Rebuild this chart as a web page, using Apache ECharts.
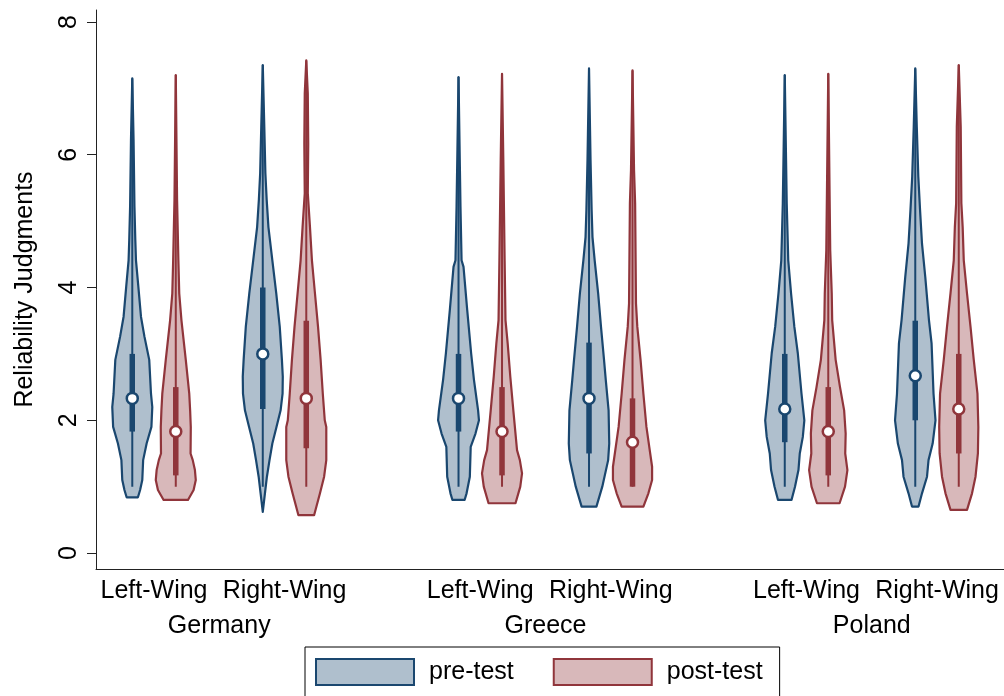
<!DOCTYPE html>
<html><head><meta charset="utf-8">
<script src="https://cdn.jsdelivr.net/npm/echarts@6/dist/echarts.min.js"></script>
<style>html,body{margin:0;padding:0;background:#fff}#main{width:1004px;height:696px}</style>
</head><body><div id="main"></div>
<script>
const countries = ['Germany', 'Greece', 'Poland'];
const wings = ['Left-Wing', 'Right-Wing'];
const tests = ['pre-test', 'post-test'];
const yTicks = [0, 2, 4, 6, 8];

// Density profiles: [value, half-width in x-axis units], top to bottom
const germanyLeftPre = [[7.15,0],[6.22,0.03],[5.22,0.05],[4.71,0.07],[4.41,0.085],[4.01,0.14],[3.56,0.20],[3.26,0.28],[2.91,0.39],[2.40,0.43],[2.20,0.46],[1.90,0.44],[1.65,0.33],[1.40,0.25],[1.10,0.23],[0.95,0.18],[0.84,0.13]];
const germanyLeftPost = [[7.2,0],[5.32,0.03],[4.41,0.06],[3.91,0.08],[3.51,0.13],[2.91,0.23],[2.40,0.31],[2.15,0.33],[1.90,0.345],[1.50,0.34],[1.40,0.39],[1.25,0.44],[1.10,0.46],[0.95,0.41],[0.80,0.28]];
const germanyRightPre = [[7.35,0],[6.42,0.035],[5.72,0.06],[5.32,0.09],[4.91,0.13],[4.41,0.22],[3.91,0.31],[3.41,0.39],[2.91,0.44],[2.66,0.46],[2.40,0.455],[2.15,0.41],[1.90,0.315],[1.65,0.22],[1.40,0.155],[1.15,0.095],[0.90,0.05],[0.62,0]];
const germanyRightPost = [[7.42,0],[6.92,0.035],[6.17,0.045],[5.42,0.035],[4.91,0.085],[4.41,0.13],[3.91,0.20],[3.41,0.27],[2.91,0.33],[2.40,0.38],[2.00,0.425],[1.90,0.46],[1.40,0.46],[1.15,0.41],[0.90,0.315],[0.57,0.18]];
const greeceLeftPre = [[7.17,0],[5.22,0.045],[4.41,0.07],[4.31,0.115],[3.66,0.20],[3.01,0.29],[2.61,0.355],[2.15,0.45],[2.00,0.47],[1.80,0.39],[1.60,0.28],[1.15,0.26],[0.90,0.185],[0.80,0.14]];
const greeceLeftPost = [[7.22,0],[5.92,0.03],[4.41,0.06],[3.51,0.08],[3.16,0.13],[2.66,0.19],[2.15,0.26],[1.55,0.345],[1.40,0.41],[1.20,0.46],[1.00,0.42],[0.75,0.31]];
const greeceRightPre = [[7.30,0],[5.92,0.035],[5.17,0.06],[4.76,0.08],[4.41,0.13],[3.91,0.21],[3.41,0.275],[2.91,0.345],[2.61,0.385],[2.15,0.45],[1.65,0.465],[1.40,0.44],[1.00,0.305],[0.70,0.17]];
const greeceRightPost = [[7.27,0],[5.77,0.035],[5.27,0.06],[3.76,0.08],[3.41,0.11],[2.91,0.185],[2.40,0.25],[1.90,0.32],[1.60,0.385],[1.30,0.45],[1.10,0.45],[0.90,0.365],[0.70,0.25]];
const polandLeftPre = [[7.20,0],[5.27,0.045],[4.41,0.08],[3.91,0.145],[3.41,0.22],[3.01,0.30],[2.40,0.385],[2.00,0.45],[1.75,0.415],[1.50,0.345],[1.25,0.315],[1.00,0.235],[0.80,0.155]];
const polandLeftPost = [[7.22,0],[4.56,0.045],[3.91,0.08],[3.51,0.09],[2.91,0.17],[2.50,0.27],[2.15,0.365],[1.80,0.40],[1.50,0.39],[1.25,0.44],[1.00,0.385],[0.75,0.26]];
const polandRightPre = [[7.30,0],[6.42,0.035],[5.67,0.07],[5.17,0.11],[4.66,0.155],[4.16,0.23],[3.51,0.315],[3.16,0.375],[2.40,0.42],[2.00,0.465],[1.65,0.40],[1.40,0.305],[1.15,0.27],[0.90,0.155],[0.70,0.075]];
const polandRightPost = [[7.35,0],[6.42,0.045],[5.27,0.06],[4.91,0.09],[4.41,0.115],[3.91,0.19],[3.41,0.27],[2.91,0.345],[2.40,0.43],[1.90,0.45],[1.50,0.44],[1.15,0.385],[0.90,0.305],[0.65,0.19]];

// Box statistics: [lower adjacent, q1, median, q3, upper adjacent]
const germanyLeftPreStats = [1.0, 1.83, 2.33, 3.0, 7.15];
const germanyLeftPostStats = [1.0, 1.17, 1.83, 2.5, 7.2];
const germanyRightPreStats = [1.0, 2.17, 3.0, 4.0, 7.35];
const germanyRightPostStats = [1.0, 1.58, 2.33, 3.5, 7.42];
const greeceLeftPreStats = [1.0, 1.83, 2.33, 3.0, 7.17];
const greeceLeftPostStats = [1.0, 1.17, 1.83, 2.5, 7.22];
const greeceRightPreStats = [1.0, 1.5, 2.33, 3.17, 7.3];
const greeceRightPostStats = [1.0, 1.0, 1.67, 2.33, 7.27];
const polandLeftPreStats = [1.0, 1.67, 2.17, 3.0, 7.2];
const polandLeftPostStats = [1.0, 1.17, 1.83, 2.5, 7.22];
const polandRightPreStats = [1.0, 2.0, 2.67, 3.5, 7.3];
const polandRightPostStats = [1.0, 1.5, 2.17, 3.0, 7.35];

const profiles = {
  'pre-test': [germanyLeftPre, germanyRightPre, greeceLeftPre, greeceRightPre, polandLeftPre, polandRightPre],
  'post-test': [germanyLeftPost, germanyRightPost, greeceLeftPost, greeceRightPost, polandLeftPost, polandRightPost]
};
const stats = {
  'pre-test': [germanyLeftPreStats, germanyRightPreStats, greeceLeftPreStats, greeceRightPreStats, polandLeftPreStats, polandRightPreStats],
  'post-test': [germanyLeftPostStats, germanyRightPostStats, greeceLeftPostStats, greeceRightPostStats, polandLeftPostStats, polandRightPostStats]
};

const colors = {
  'pre-test': { line: '#1a476f', fill: '#afbfcd' },
  'post-test': { line: '#90353b', fill: '#d8b8ba' }
};

const GROUP_STEP = 7.5, WING_STEP = 3, TEST_STEP = 1;
function pos(c, w, t) { return c * GROUP_STEP + w * WING_STEP + t * TEST_STEP; }

const wingLabelPos = [], wingLabelText = {};
countries.forEach((c, ci) => wings.forEach((w, wi) => {
  const p = pos(ci, wi, 0.5);
  wingLabelPos.push(p); wingLabelText[p] = w;
}));
const countryLabelPos = [], countryLabelText = {};
countries.forEach((c, ci) => {
  const p = (pos(ci, 0, 0.5) + pos(ci, 1, 0.5)) / 2;
  countryLabelPos.push(p); countryLabelText[p] = c;
});

function findLabel(map, v) {
  let best = null, bd = 1e9;
  Object.keys(map).forEach(k => { const d = Math.abs(+k - v); if (d < bd) { bd = d; best = map[k]; } });
  return bd < 0.01 ? best : '';
}

const FONT = "'Liberation Sans', Arial, sans-serif";

function makeSeries(test, ti) {
  const data = [];
  countries.forEach((c, ci) => wings.forEach((w, wi) => {
    const st = stats[test][ci * 2 + wi];
    data.push([pos(ci, wi, ti), st[0], st[4]]);
  }));
  const col = colors[test];
  return {
    name: test,
    type: 'custom',
    xAxisIndex: 0,
    yAxisIndex: 0,
    itemStyle: { color: col.fill, borderColor: col.line, borderWidth: 2 },
    encode: { x: 0, y: [1, 2] },
    data: data,
    renderItem: function (params, api) {
      const i = params.dataIndex;
      const x = api.value(0);
      const prof = profiles[test][i];
      const st = stats[test][i];
      const right = prof.map(p => api.coord([x + p[1], p[0]]));
      const left = prof.slice().reverse().map(p => api.coord([x - p[1], p[0]]));
      const pts = right.concat(left);
      const lo = api.coord([x, st[0]]), q1 = api.coord([x, st[1]]), md = api.coord([x, st[2]]),
            q3 = api.coord([x, st[3]]), hi = api.coord([x, st[4]]);
      return {
        type: 'group',
        children: [
          { type: 'polygon', shape: { points: pts }, style: { fill: col.fill, stroke: col.line, lineWidth: 2.2, lineJoin: 'round' } },
          { type: 'line', shape: { x1: lo[0], y1: lo[1], x2: hi[0], y2: hi[1] }, style: { stroke: col.line, lineWidth: 2 } },
          { type: 'line', shape: { x1: q1[0], y1: q1[1], x2: q3[0], y2: q3[1] }, style: { stroke: col.line, lineWidth: 5.5 } },
          { type: 'circle', shape: { cx: md[0], cy: md[1], r: 5.5 }, style: { fill: '#fff', stroke: col.line, lineWidth: 2.5 } }
        ]
      };
    }
  };
}

const chart = echarts.init(document.getElementById('main'), null, { renderer: 'canvas' });
chart.setOption({
  animation: false,
  backgroundColor: '#fff',
  textStyle: { fontFamily: FONT, color: '#000' },
  grid: { left: 96, right: 0, top: 10, bottom: 127, containLabel: false, outerBoundsMode: 'none' },
  xAxis: [
    {
      type: 'value', min: -0.834, max: 20.04, position: 'bottom',
      axisLine: { show: true, onZero: false, lineStyle: { color: '#222', width: 1 } },
      axisTick: { show: false }, splitLine: { show: false },
      axisLabel: {
        customValues: wingLabelPos, margin: 10, fontSize: 25, fontFamily: FONT, color: '#000',
        formatter: v => findLabel(wingLabelText, v), hideOverlap: false
      }
    },
    {
      type: 'value', min: -0.834, max: 20.04, position: 'bottom',
      axisLine: { show: false, onZero: false }, axisTick: { show: false }, splitLine: { show: false },
      axisLabel: {
        customValues: countryLabelPos, margin: 45, fontSize: 25, fontFamily: FONT, color: '#000',
        formatter: v => findLabel(countryLabelText, v), hideOverlap: false
      }
    }
  ],
  yAxis: {
    type: 'value', min: -0.24, max: 8.18,
    name: 'Reliability Judgments', nameLocation: 'middle', nameGap: 58, nameRotate: 90,
    nameTextStyle: { fontSize: 25, fontFamily: FONT, color: '#000' },
    axisLine: { show: true, onZero: false, lineStyle: { color: '#222', width: 1 } },
    axisTick: { show: true, customValues: yTicks, length: 9, lineStyle: { color: '#222', width: 1 } },
    splitLine: { show: false },
    axisLabel: { customValues: yTicks, rotate: 90, margin: 14, fontSize: 25, fontFamily: FONT, color: '#000' }
  },
  legend: {
    left: 305, top: 647,
    padding: [11, 17, 11, 10],
    borderColor: '#000', borderWidth: 1,
    itemWidth: 98, itemHeight: 26, itemGap: 39,
    icon: 'rect',
    textStyle: { fontSize: 25, fontFamily: FONT, color: '#000', padding: [0, 0, 0, 10] },
    data: tests.map(t => ({ name: t, itemStyle: { color: colors[t].fill, borderColor: colors[t].line, borderWidth: 2 } }))
  },
  series: tests.map((t, ti) => makeSeries(t, ti))
});
</script>
</body></html>
